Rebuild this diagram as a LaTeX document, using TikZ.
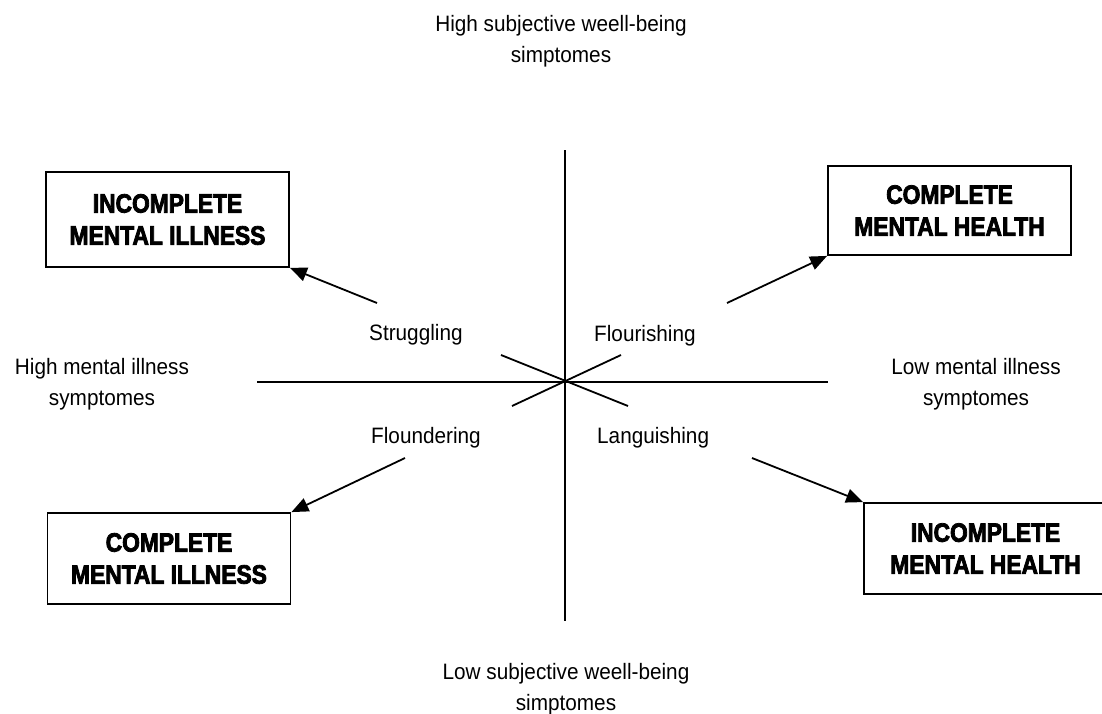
\documentclass[tikz,border=0pt]{standalone}
\usepackage{fontspec}
\setmainfont{Liberation Sans}[FakeStretch=0.93]
\newfontfamily\boxfont{Liberation Sans}[FakeStretch=0.86, BoldFeatures={FakeBold=3}]
\usetikzlibrary{arrows.meta}
\begin{document}
\begin{tikzpicture}[x=1pt,y=-1pt,
  lbl/.style={font=\fontsize{22.3}{31}\selectfont, align=center, inner sep=0pt},
  quad/.style={font=\fontsize{22.3}{31}\selectfont, inner sep=0pt, anchor=base west},
  statebox/.style={draw, line width=1.8pt, minimum width=243pt, inner sep=0pt, align=center,
    font=\boxfont\bfseries\fontsize{26.5}{32}\selectfont},
  axisline/.style={line width=1.8pt},
  conn/.style={line width=1.8pt, -{Triangle[length=17pt,width=14pt]}}]
\useasboundingbox (0,0) rectangle (1102,713);
\fill[white] (0,0) rectangle (1102,713);

% axis labels
\node[lbl] (top) at (561,41) {High subjective weell-being\\simptomes};
\node[lbl] (bottom) at (566,689) {Low subjective weell-being\\simptomes};
\node[lbl] (left) at (102,384) {High mental illness\\symptomes};
\node[lbl] (right) at (976,384) {Low mental illness\\symptomes};

% axes
\coordinate (vt) at (565,150);
\coordinate (vb) at (565,621);
\coordinate (hl) at (257,382);
\coordinate (hr) at (828,382);
\draw[axisline] (vt) -- (vb);
\draw[axisline] (hl) -- (hr);

% central diagonals
\coordinate (d1a) at (501,355);
\coordinate (d1b) at (628,406);
\coordinate (d2a) at (621,355);
\coordinate (d2b) at (512,406);
\draw[axisline] (d1a) -- (d1b);
\draw[axisline] (d2a) -- (d2b);

% quadrant labels
\node[quad] (strug) at (369,340) {Struggling};
\node[quad] (flour) at (594,341) {Flourishing};
\node[quad] (flound) at (371,443) {Floundering};
\node[quad] (lang) at (597,443) {Languishing};

% boxes
\node[statebox, minimum height=95pt] (imi) at (167.5,219.5) {INCOMPLETE\\MENTAL ILLNESS};
\node[statebox, minimum height=89pt] (cmh) at (949.5,210.5) {COMPLETE\\MENTAL HEALTH};
\node[statebox, minimum height=91pt] (cmi) at (169,558.5) {COMPLETE\\MENTAL ILLNESS};
\node[statebox, minimum height=91pt] (imh) at (985.5,548.5) {INCOMPLETE\\MENTAL HEALTH};

% arrows
\coordinate (a1) at (377,303);
\coordinate (a2) at (727,303);
\coordinate (a3) at (405,458);
\coordinate (a4) at (752,458);
\draw[conn] (a1) -- (imi.south east);
\draw[conn] (a2) -- (cmh.south west);
\draw[conn] (a3) -- (cmi.north east);
\draw[conn] (a4) -- (imh.north west);
\end{tikzpicture}
\end{document}
